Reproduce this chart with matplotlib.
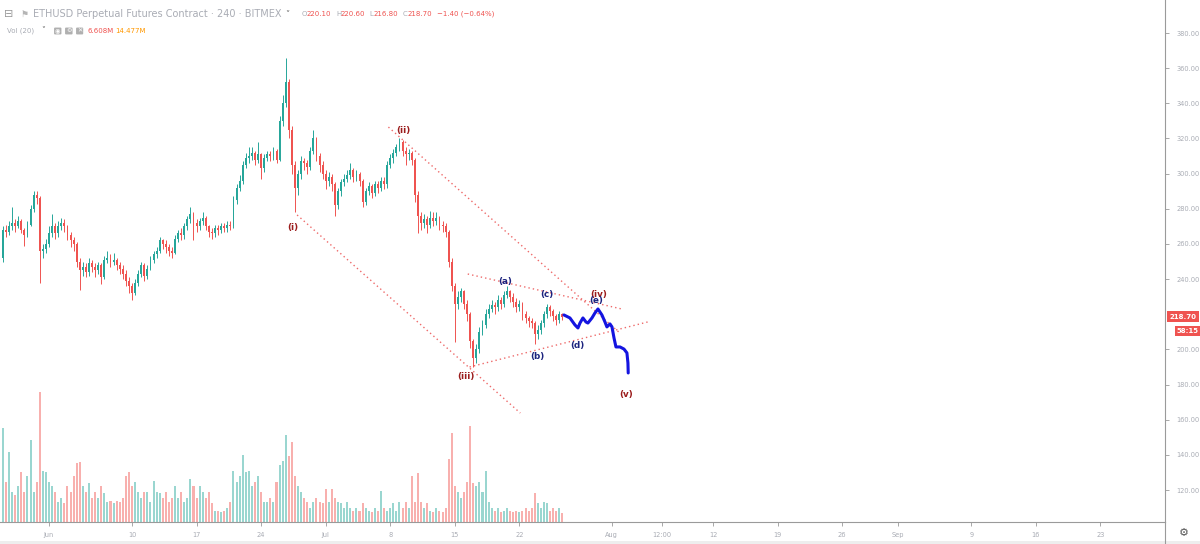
import numpy as np
import matplotlib
matplotlib.use("Agg")
import matplotlib.pyplot as plt
import matplotlib.dates as mdates
import matplotlib.transforms as mtrans
from datetime import datetime

# ---- data (ETHUSD 8h candles, prices in USD, volume in M) ----
first_open = 252
closes = [268, 267, 270, 272, 270, 273, 268, 265, 271, 280,
          288, 286, 256, 257, 260, 266, 270, 266, 270, 272,
          270, 265, 262, 260, 250, 245, 247, 244, 249, 247,
          245, 248, 241, 251, 252, 250, 251, 248, 246, 243,
          239, 236, 232, 238, 243, 248, 242, 246, 251, 254,
          256, 262, 260, 258, 256, 255, 263, 266, 265, 270,
          274, 277, 272, 270, 273, 275, 270, 267, 266, 269,
          268, 270, 269, 271, 270, 285, 292, 296, 305, 309,
          310, 312, 308, 311, 303, 309, 311, 310, 313, 308,
          330, 340, 352, 325, 305, 292, 300, 307, 306, 304,
          313, 320, 310, 305, 300, 296, 298, 294, 282, 290,
          295, 297, 299, 302, 298, 300, 296, 284, 290, 293,
          289, 294, 292, 296, 294, 305, 309, 312, 315, 318,
          313, 311, 312, 308, 288, 276, 272, 274, 271, 275,
          273, 275, 271, 270, 267, 250, 236, 226, 230, 233,
          226, 220, 205, 195, 200, 210, 214, 220, 223, 225,
          224, 228, 226, 231, 233, 230, 227, 224, 226, 220,
          218, 216, 215, 209, 211, 215, 220, 224, 222, 219,
          217, 220.1, 218.7]
highs = [270, 271, 273, 281, 274, 276, 274, 269, 273, 282,
         290, 290, 287, 260, 263, 270, 277, 272, 273, 275,
         274, 271, 267, 264, 261, 252, 250, 249, 252, 251,
         249, 250, 249, 253, 256, 254, 255, 252, 250, 248,
         245, 241, 238, 240, 245, 250, 249, 248, 253, 256,
         258, 264, 263, 262, 260, 258, 265, 268, 269, 272,
         276, 281, 278, 274, 275, 278, 276, 271, 269, 271,
         271, 272, 272, 273, 273, 287, 294, 299, 307, 312,
         315, 315, 313, 318, 312, 311, 313, 313, 315, 314,
         333, 345, 366, 354, 327, 307, 302, 310, 309, 308,
         315, 325, 321, 312, 307, 302, 301, 300, 295, 292,
         297, 300, 302, 306, 303, 302, 301, 297, 292, 295,
         294, 296, 296, 298, 298, 307, 311, 314, 317, 320,
         319, 315, 314, 313, 309, 290, 278, 277, 276, 279,
         278, 278, 276, 273, 272, 268, 252, 238, 233, 235,
         234, 228, 221, 206, 203, 213, 217, 223, 226, 228,
         227, 231, 230, 233, 236, 234, 232, 229, 228, 227,
         222, 219, 218, 216, 214, 217, 222, 226, 225, 223,
         220, 222, 220.6]
lows = [250, 264, 265, 268, 267, 269, 266, 259, 264, 270,
        278, 283, 238, 252, 255, 258, 264, 263, 264, 268,
        267, 262, 258, 256, 247, 234, 242, 241, 242, 244,
        241, 243, 237, 240, 249, 247, 248, 245, 243, 240,
        236, 232, 228, 231, 236, 241, 239, 240, 245, 249,
        252, 255, 257, 255, 253, 252, 254, 261, 262, 263,
        268, 272, 262, 267, 268, 271, 268, 264, 263, 264,
        265, 266, 267, 267, 268, 269, 283, 290, 294, 303,
        306, 308, 305, 306, 297, 301, 307, 307, 308, 306,
        307, 327, 338, 320, 300, 278, 288, 297, 302, 300,
        302, 311, 307, 301, 297, 291, 293, 290, 276, 280,
        287, 293, 295, 297, 295, 296, 293, 281, 282, 288,
        286, 287, 289, 290, 291, 292, 303, 306, 310, 313,
        310, 305, 308, 305, 284, 266, 268, 269, 266, 269,
        270, 271, 268, 267, 264, 247, 233, 204, 223, 227,
        223, 216, 201, 190, 192, 198, 208, 212, 218, 221,
        220, 222, 223, 224, 229, 227, 224, 221, 222, 217,
        215, 213, 212, 203, 206, 209, 213, 218, 219, 216,
        214, 215, 216.8]
volumes = [66, 28, 49, 21, 19, 25, 35, 21, 32, 57,
           21, 28, 91, 36, 35, 28, 25, 21, 14, 17,
           13, 25, 21, 32, 41, 42, 25, 21, 27, 17,
           21, 17, 25, 20, 14, 15, 13, 15, 14, 17,
           32, 35, 25, 28, 21, 17, 21, 21, 14, 29,
           21, 20, 17, 21, 14, 17, 25, 17, 21, 14,
           17, 30, 25, 17, 25, 21, 17, 21, 13, 8,
           8, 7, 8, 10, 14, 36, 28, 32, 47, 35,
           36, 25, 28, 32, 21, 14, 14, 17, 14, 28,
           40, 43, 61, 46, 56, 32, 25, 21, 17, 14,
           10, 14, 17, 14, 13, 23, 14, 23, 17, 14,
           13, 10, 14, 10, 8, 10, 8, 13, 10, 8,
           7, 10, 8, 22, 10, 8, 10, 13, 8, 14,
           10, 14, 10, 32, 14, 34, 14, 10, 13, 8,
           7, 10, 8, 7, 10, 44, 62, 25, 21, 17,
           21, 28, 67, 27, 25, 28, 21, 36, 14, 10,
           8, 10, 7, 8, 10, 8, 7, 8, 7, 8,
           10, 8, 10, 20, 13, 10, 14, 13, 8, 10,
           8, 10, 6.6]

# forecast path (days after 1 Jun 2019, price)
fc_days = [55.83, 56.48, 57.03, 57.35, 57.57, 57.89, 58.22, 58.43, 58.87, 59.19, 59.52, 59.95,
           60.28, 60.49, 60.82, 61.04, 61.26, 61.47, 61.91, 62.34, 62.66, 62.77, 62.8]
fc_price = [219.6, 217.9, 213.9, 212.2, 215.0, 217.9, 215.6, 215.0, 217.9, 220.7, 223.0, 219.6,
            215.6, 212.8, 214.5, 212.8, 206.5, 201.4, 201.4, 200.2, 198.0, 192.3, 186.6]

# dotted trend lines (days after 1 Jun, price) -> (start, end)
trend_lines = [((26.9, 276.5), (51.1, 163.8)),
               ((36.8, 326.5), (61.9, 209.3)),
               ((45.6, 190.0), (64.9, 215.6)),
               ((45.4, 242.9), (62.1, 223.0))]

wave_red = [("(i)", 26.45, 269.1), ("(ii)", 38.4, 324.8), ("(iii)", 45.2, 184.3),
            ("(iv)", 59.6, 231.5), ("(v)", 62.55, 174.1)]
wave_blue = [("(a)", 49.44, 238.4), ("(b)", 52.91, 195.7), ("(c)", 53.99, 231.0),
             ("(d)", 57.24, 202.5), ("(e)", 59.3, 227.6)]

tick_dates = ["2019-06-01", "2019-06-10", "2019-06-17", "2019-06-24", "2019-07-01", "2019-07-08",
              "2019-07-15", "2019-07-22", "2019-08-01", "2019-08-06 12:00", "2019-08-12", "2019-08-19",
              "2019-08-26", "2019-09-01", "2019-09-09", "2019-09-16", "2019-09-23"]
tick_labels = ["Jun", "10", "17", "24", "Jul", "8", "15", "22", "Aug", "12:00", "12", "19",
               "26", "Sep", "9", "16", "23"]
# 220 is hidden behind the last-price tag, as on the original
price_ticks = [120, 140, 160, 180, 200, 240, 260, 280, 300, 320, 340, 360, 380]

# ---- figure ----
W, H = 1200, 544
fig = plt.figure(figsize=(W / 100, H / 100), dpi=100)
fig.patch.set_facecolor("white")
ax2 = fig.add_axes([0, 22 / H, 1165 / W, 522 / H])
ax = fig.add_axes([0, 22 / H, 1165 / W, 522 / H], sharex=ax2)
ax.patch.set_visible(False)

GREEN, RED = "#26a69a", "#ef5350"
GRAY_TXT = "#a9acb4"

jun1 = mdates.date2num(datetime(2019, 6, 1))
t0 = mdates.date2num(datetime(2019, 5, 27))
n = len(closes)
x = t0 + np.arange(n) / 3.0
c = np.array(closes, float)
o = np.concatenate([[first_open], c[:-1]])
up = c >= o
cols = np.where(up, GREEN, RED)

# volume
vcols = np.where(up, "#9ad6d0", "#f8b0ae")
ax2.bar(x, volumes, width=0.22, color=vcols, linewidth=0)
ax2.set_ylim(0, 365)
ax2.axis("off")

# candles
ax.vlines(x, lows, highs, colors=cols, linewidth=0.7)
body = np.maximum(np.abs(c - o), 0.4)
ax.bar(x, body, bottom=np.minimum(o, c), width=0.2, color=cols, linewidth=0)

# trend lines
for (d0, p0), (d1, p1) in trend_lines:
    ax.plot([jun1 + d0, jun1 + d1], [p0, p1], color="#ee6a6a", lw=1.0,
            linestyle=(0, (1, 2.2)))

# forecast path
ax.plot(jun1 + np.array(fc_days), fc_price, color="#1414e0", lw=2.2,
        solid_joinstyle="round", solid_capstyle="round")

for s, d, p in wave_red:
    ax.text(jun1 + d, p, s, color="#9b1c1c", fontsize=6.3, fontweight="bold",
            ha="center", va="center")
for s, d, p in wave_blue:
    ax.text(jun1 + d, p, s, color="#1c237e", fontsize=6.3, fontweight="bold",
            ha="center", va="center")

# axes styling
ax.set_xlim(mdates.date2num(datetime(2019, 5, 26, 16, 30)), jun1 + 121)
ax.set_ylim(101.8, 398.8)
for sp in ["top", "left"]:
    ax.spines[sp].set_visible(False)
for sp in ["bottom", "right"]:
    ax.spines[sp].set_color("#9a9a9a")
    ax.spines[sp].set_linewidth(0.8)
ax.yaxis.tick_right()
ax.set_yticks(price_ticks)
ax.set_yticklabels([f"{p:.2f}" for p in price_ticks])
ax.tick_params(axis="y", direction="out", length=3, width=0.6, color="#9a9a9a",
               labelsize=4.8, labelcolor=GRAY_TXT, pad=5)
ax.set_xticks([mdates.date2num(np.datetime64(d).astype(datetime)) for d in tick_dates])
ax.set_xticklabels(tick_labels)
ax.tick_params(axis="x", direction="out", length=3, width=0.6, color="#9a9a9a",
               labelsize=4.8, labelcolor=GRAY_TXT, pad=4)

# last price tags
bt = mtrans.blended_transform_factory(ax.transAxes, ax.transData)
ax.text(1.004, closes[-1], f"{closes[-1]:.2f}", transform=bt, ha="left", va="center",
        fontsize=5, color="white", fontweight="bold",
        bbox=dict(boxstyle="square,pad=0.35", fc=RED, ec="none"))
ax.annotate("58:15", xy=(1.0, closes[-1]), xycoords=bt, xytext=(8.5, -10.5),
            textcoords="offset points", ha="left", va="center", fontsize=5,
            color="white", fontweight="bold",
            bbox=dict(boxstyle="square,pad=0.3", fc=RED, ec="none"))


def ftxt(px, py, s, **kw):
    fig.text(px / W, 1 - py / H, s, ha="left", va="center", **kw)


# header line 1
ftxt(4, 14, "⊟", fontsize=8, color="#9a9a9a")
ftxt(20, 14, "⚑", fontsize=6.5, color="#b5b5b5")
ftxt(33, 14, "ETHUSD Perpetual Futures Contract · 240 · BITMEX", fontsize=7, color=GRAY_TXT)
ftxt(285, 14, "˅", fontsize=6, color="#777777", fontweight="bold")
for px, k, v in [(302, "O", "220.10"), (336, "H", "220.60"), (369, "L", "216.80"), (403, "C", "218.70")]:
    ftxt(px, 14, k, fontsize=5, color=GRAY_TXT)
    ftxt(px + 5, 14, v, fontsize=5, color=RED)
ftxt(437, 14, "−1.40 (−0.64%)", fontsize=5, color=RED)

# header line 2
ftxt(7, 31, "Vol (20)", fontsize=5, color=GRAY_TXT)
ftxt(41, 31, "˅", fontsize=5.5, color="#777777", fontweight="bold")
for px, sym in [(55, "◉"), (66, "⚙"), (77, "✕")]:
    ftxt(px, 31, sym, fontsize=4.5, color="white",
         bbox=dict(boxstyle="round,pad=0.15", fc="#b0b0b0", ec="none"))
ftxt(88, 31, "6.608M", fontsize=5, color=RED)
ftxt(115, 31, "14.477M", fontsize=5, color="#ff9800")

# bottom-right corner
fig.add_artist(plt.Line2D([1165 / W, 1165 / W], [0, 22 / H], color="#9a9a9a", lw=0.8))
fig.add_artist(plt.Rectangle((0, 0), 1, 3 / H, color="#eeeeee", lw=0))
ftxt(1179, 533, "⚙", fontsize=8, color="#555555")

fig.savefig("out.png", dpi=100)
